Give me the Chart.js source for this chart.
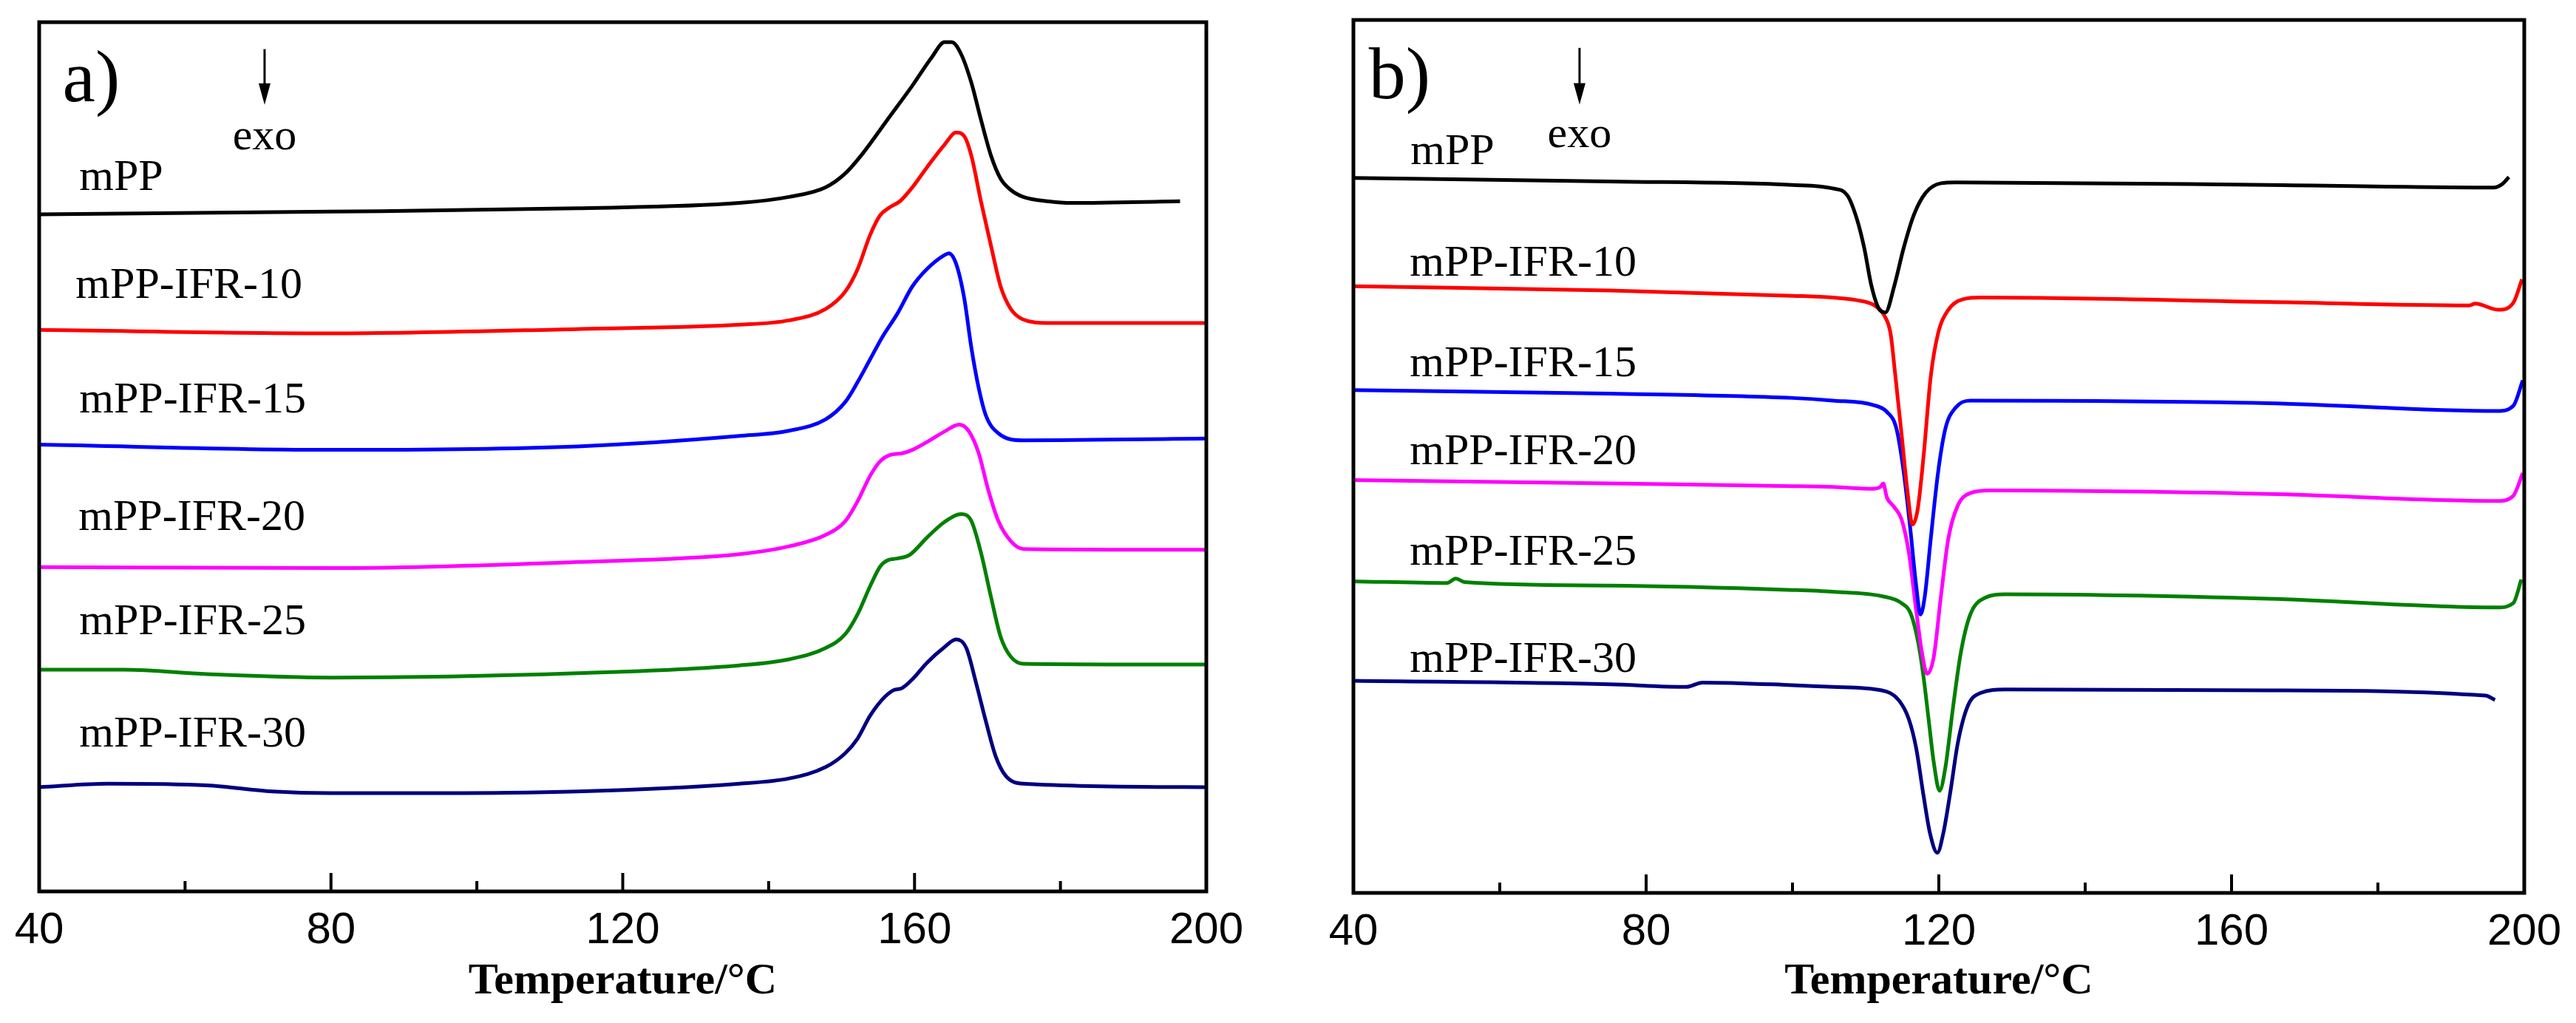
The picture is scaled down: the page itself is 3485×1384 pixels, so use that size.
<!DOCTYPE html>
<html>
<head>
<meta charset="utf-8">
<title>DSC curves mPP / mPP-IFR</title>
<script src="https://cdn.jsdelivr.net/npm/chart.js@4.4.1/dist/chart.umd.min.js"></script>
<style>
  html, body { margin:0; padding:0; background:#fff; }
  #wrap { position:relative; width:3485px; height:1384px; }
  .panel { position:absolute; top:0; height:1384px; }
  #panelA { left:0; width:1740px; }
  #panelB { left:1740px; width:1745px; }
</style>
</head>
<body>
<div id="wrap">
  <div class="panel" id="panelA"><canvas id="chartA"></canvas></div>
  <div class="panel" id="panelB"><canvas id="chartB"></canvas></div>
</div>
<script>
// DSC traces. Temperature in °C, heat flow in arbitrary
// units (curves are stacked, 0 = bottom of the frame, 100 = top).

const SERIES_NAMES = ["mPP", "mPP-IFR-10", "mPP-IFR-15", "mPP-IFR-20", "mPP-IFR-25", "mPP-IFR-30"];
const SERIES_COLORS = ["#000000", "#ff0000", "#0000ff", "#ff00ff", "#008000", "#000080"];
const X_TICKS = [40, 80, 120, 160, 200];

// ---- panel a) heating scans
const aT_mPP = [40, 80, 113.8, 136, 142.8, 147.8, 150.5, 152.9, 156.3, 159.7, 162.4, 164.1, 165.1, 166.4, 167.8, 169.1, 170.5, 171.8, 173.2, 174.9, 178.2, 181.6, 196.4];
const aY_mPP = [77.9, 78.2, 78.6, 79.2, 79.9, 81.0, 82.6, 84.9, 88.8, 92.7, 96.0, 97.7, 97.7, 96.3, 93.0, 88.8, 84.6, 82.0, 80.7, 79.9, 79.4, 79.2, 79.4];

const aT_10 = [40, 80, 113.8, 136, 142.8, 147.8, 150.5, 152.2, 153.9, 155.3, 156.6, 158.0, 159.7, 161.7, 164.1, 165.7, 166.8, 167.8, 169.1, 170.5, 171.8, 173.2, 174.9, 178.2, 200];
const aY_10 = [64.6, 64.2, 64.7, 65.2, 65.7, 67.0, 69.0, 71.6, 75.5, 77.8, 78.7, 79.4, 81.0, 83.3, 85.9, 87.3, 86.9, 84.6, 79.4, 74.2, 69.6, 67.0, 65.8, 65.4, 65.4];

const aT_15 = [40, 80, 113.8, 136, 142.8, 147.8, 150.5, 152.2, 153.9, 155.6, 157.6, 159.7, 161.7, 164.1, 164.7, 165.7, 166.8, 167.8, 168.8, 169.8, 171.5, 174.9, 200];
const aY_15 = [51.4, 50.8, 51.2, 52.4, 53.0, 54.3, 56.3, 58.6, 61.2, 63.8, 66.4, 69.6, 71.6, 73.2, 73.4, 72.2, 68.3, 62.5, 57.9, 54.7, 52.7, 51.9, 52.1];

const aT_20 = [40, 80, 113.8, 136, 142.8, 147.8, 150.5, 152.2, 153.9, 155.3, 156.6, 158.3, 159.7, 161.7, 164.1, 166.1, 167.4, 168.8, 170.1, 171.5, 173.2, 174.9, 200];
const aY_20 = [37.3, 37.2, 37.9, 38.8, 39.7, 41.0, 42.6, 44.9, 47.8, 49.5, 50.2, 50.4, 50.8, 51.7, 52.9, 53.7, 53.0, 50.4, 46.2, 42.6, 40.3, 39.4, 39.3];

const aT_25 = [40, 51.6, 63, 80, 113.8, 136, 142.8, 147.8, 150.5, 152.2, 153.9, 155.3, 156.3, 157.6, 159.3, 161.7, 164.1, 166.4, 167.8, 169.1, 170.5, 171.8, 173.2, 174.9, 200];
const aY_25 = [25.5, 25.5, 25.0, 24.6, 25.1, 26.0, 26.7, 28.0, 29.6, 31.9, 35.1, 37.4, 38.1, 38.3, 38.7, 40.7, 42.5, 43.4, 42.6, 39.0, 33.8, 29.3, 27.0, 26.2, 26.1];

const aT_30 = [40, 49.4, 63, 72, 80, 91, 113.8, 136, 142.8, 147.8, 150.5, 152.2, 153.9, 155.6, 157.0, 158.3, 159.7, 161.7, 164.1, 165.7, 167.1, 168.4, 169.8, 171.1, 172.5, 174.9, 200];
const aY_30 = [12.0, 12.4, 12.2, 11.5, 11.3, 11.3, 11.5, 12.4, 13.0, 14.3, 15.9, 17.6, 20.2, 22.1, 23.1, 23.4, 24.4, 26.3, 28.1, 29.0, 28.0, 24.1, 19.5, 15.6, 13.3, 12.4, 12.0];

// ---- panel b) cooling scans
const bT_mPP = [40, 75, 100, 105.5, 107.5, 108.8, 109.8, 110.8, 111.9, 112.7, 113.9, 115.2, 116.6, 118.2, 120.3, 122.3, 165, 195.8, 197, 197.9];
const bY_mPP = [81.9, 81.5, 81.1, 80.7, 79.9, 77.2, 73.9, 69.5, 66.8, 66.5, 69.5, 73.9, 77.7, 80.2, 81.3, 81.4, 81.1, 80.8, 81.2, 82.0];

const bT_10 = [40, 75, 100, 105.5, 108.8, 111.2, 112.5, 113.4, 114.0, 114.9, 115.7, 116.4, 117.1, 117.9, 118.9, 119.9, 121.3, 123.3, 125.7, 165, 192.5, 193.3, 196.5, 198.5, 199.7];
const bY_10 = [69.5, 69.0, 68.4, 68.2, 67.9, 67.3, 66.2, 64.1, 59.7, 52.6, 46.1, 42.2, 43.9, 49.9, 59.2, 64.1, 66.8, 68.0, 68.2, 67.7, 67.3, 67.5, 66.8, 67.6, 70.3];

const bT_15 = [40, 75, 100, 105.5, 111, 112.9, 114.2, 115.2, 116.1, 116.9, 117.5, 118.1, 118.9, 119.9, 120.9, 122.3, 124.3, 165, 196.4, 198.5, 199.8];
const bY_15 = [57.6, 57.2, 56.7, 56.4, 55.9, 55.1, 53.2, 48.2, 41.7, 35.2, 31.9, 34.1, 40.6, 48.2, 53.2, 55.6, 56.4, 56.1, 55.2, 55.8, 58.7];

const bT_20 = [40, 75, 100, 105.5, 111, 112.0, 112.4, 112.9, 113.9, 114.9, 115.9, 116.9, 117.7, 118.4, 119.3, 120.3, 121.3, 122.6, 124.3, 127, 165, 196.4, 198.5, 199.8];
const bY_20 = [47.3, 46.9, 46.6, 46.5, 46.3, 46.5, 46.9, 45.3, 44.2, 42.8, 39.0, 32.4, 27.5, 25.1, 27.0, 34.1, 40.6, 44.4, 45.8, 46.1, 45.7, 44.9, 45.5, 48.1];

const bT_25 = [40, 52.8, 54.0, 55.2, 75, 100, 105.5, 112.2, 114.9, 116.2, 117.2, 117.9, 118.6, 119.3, 120.1, 120.9, 121.9, 123.0, 124.3, 126.3, 129, 165, 196.4, 198.5, 199.6];
const bY_25 = [35.7, 35.5, 36.0, 35.6, 35.2, 34.7, 34.5, 34.0, 33.2, 31.9, 28.6, 24.8, 19.9, 15.0, 11.7, 14.4, 21.0, 27.5, 31.9, 33.8, 34.2, 33.7, 32.7, 33.2, 35.9];

const bT_30 = [40, 75, 85.5, 87.7, 100, 105.5, 112.2, 114.5, 115.9, 116.9, 117.9, 118.8, 119.8, 120.6, 121.6, 122.6, 124.0, 125.7, 129, 165, 194.7, 196];
const bY_30 = [24.3, 23.9, 23.6, 24.1, 23.8, 23.6, 23.2, 22.1, 19.9, 16.6, 11.2, 6.8, 4.6, 6.8, 11.7, 17.2, 21.5, 22.9, 23.3, 23.2, 22.6, 22.1];

// text placement inside each frame (axis units: °C, heat-flow units)
const NOTES_A = {
  letter: "a)", letterAt: [43.2, 90.9],
  arrowAt: [70.9, 96.9, 90.5], exoAt: [70.9, 85.4],
  labelsAt: [[45.5, 80.7], [45.0, 68.3], [45.5, 55.1], [45.4, 41.6], [45.5, 29.6], [45.5, 16.7]]
};
const NOTES_B = {
  letter: "b)", letterAt: [42.1, 91.0],
  arrowAt: [70.9, 96.8, 90.3], exoAt: [70.9, 85.4],
  labelsAt: [[47.8, 83.5], [47.7, 70.7], [47.7, 59.2], [47.7, 49.1], [47.7, 37.6], [47.7, 25.3]]
};

const SERIF = "'Liberation Serif', 'Times New Roman', serif";

// plot frame plus inward tick marks (major every 40, minor every 20)
const framePlugin = {
  id: 'frame',
  afterDraw(chart) {
    const { ctx, chartArea: a, scales: { x } } = chart;
    ctx.save();
    ctx.strokeStyle = '#000';
    ctx.lineWidth = 5;
    ctx.strokeRect(a.left, a.top, a.right - a.left, a.bottom - a.top);
    ctx.lineWidth = 4;
    x.ticks.forEach(t => {
      const px = x.getPixelForValue(t.value);
      const len = X_TICKS.includes(t.value) ? 25 : 14;
      ctx.beginPath();
      ctx.moveTo(px, a.bottom);
      ctx.lineTo(px, a.bottom - len);
      ctx.stroke();
    });
    ctx.restore();
  }
};

function notesPlugin(notes) {
  return {
    id: 'notes',
    afterDraw(chart) {
      const { ctx, scales: { x, y } } = chart;
      const px = v => x.getPixelForValue(v), py = v => y.getPixelForValue(v);
      ctx.save();
      ctx.fillStyle = '#000';
      ctx.textBaseline = 'alphabetic';

      // panel letter
      ctx.font = `100px ${SERIF}`;
      ctx.textAlign = 'left';
      ctx.fillText(notes.letter, px(notes.letterAt[0]), py(notes.letterAt[1]));

      // curve names
      ctx.font = `60px ${SERIF}`;
      SERIES_NAMES.forEach((n, i) => {
        const p = notes.labelsAt[i];
        ctx.fillText(n, px(p[0]), py(p[1]));
      });

      // exo arrow
      const ax = px(notes.arrowAt[0]), ay0 = py(notes.arrowAt[1]), ay1 = py(notes.arrowAt[2]);
      ctx.strokeStyle = '#000';
      ctx.lineWidth = 3;
      ctx.beginPath();
      ctx.moveTo(ax, ay0);
      ctx.lineTo(ax, ay1 - 20);
      ctx.stroke();
      ctx.beginPath();
      ctx.moveTo(ax - 8, ay1 - 29);
      ctx.lineTo(ax + 8, ay1 - 29);
      ctx.lineTo(ax, ay1);
      ctx.closePath();
      ctx.fill();

      ctx.textAlign = 'center';
      ctx.fillText('exo', px(notes.exoAt[0]), py(notes.exoAt[1]));
      ctx.restore();
    }
  };
}

function makeChart(canvasId, temps, values, pad, axisH, notes) {
  const datasets = temps.map((t, i) => ({
    label: SERIES_NAMES[i],
    data: t.map((tv, j) => ({ x: tv, y: values[i][j] })),
    borderColor: SERIES_COLORS[i],
    borderWidth: 5,
    pointRadius: 0,
    fill: false,
    cubicInterpolationMode: 'monotone'
  }));

  return new Chart(document.getElementById(canvasId), {
    type: 'line',
    data: { datasets },
    options: {
      responsive: true,
      maintainAspectRatio: false,
      animation: false,
      devicePixelRatio: 1,
      layout: { padding: pad },
      plugins: { legend: { display: false }, tooltip: { enabled: false } },
      scales: {
        x: {
          type: 'linear', min: 40, max: 200,
          grid: { display: false, drawTicks: false },
          border: { display: false },
          ticks: {
            stepSize: 20, autoSkip: false, maxRotation: 0, padding: 17, color: '#000',
            font: { family: "'Liberation Sans', Arial, sans-serif", size: 60 },
            callback: v => X_TICKS.includes(v) ? String(v) : ''
          },
          title: {
            display: true, text: 'Temperature/°C', color: '#000',
            font: { family: SERIF, size: 60, weight: 'bold' },
            padding: { top: 0, bottom: 20 }
          },
          afterFit: s => { s.height = axisH; }
        },
        y: { display: false, min: 0, max: 100 }
      }
    },
    plugins: [framePlugin, notesPlugin(notes)]
  });
}

function init() {
  makeChart('chartA',
    [aT_mPP, aT_10, aT_15, aT_20, aT_25, aT_30],
    [aY_mPP, aY_10, aY_15, aY_20, aY_25, aY_30],
    { left: 53, right: 108, top: 30, bottom: 0 }, 178, NOTES_A);
  makeChart('chartB',
    [bT_mPP, bT_10, bT_15, bT_20, bT_25, bT_30],
    [bY_mPP, bY_10, bY_15, bY_20, bY_25, bY_30],
    { left: 91, right: 70, top: 27, bottom: 0 }, 176, NOTES_B);
}

window.addEventListener('DOMContentLoaded', init);
</script>
</body>
</html>
